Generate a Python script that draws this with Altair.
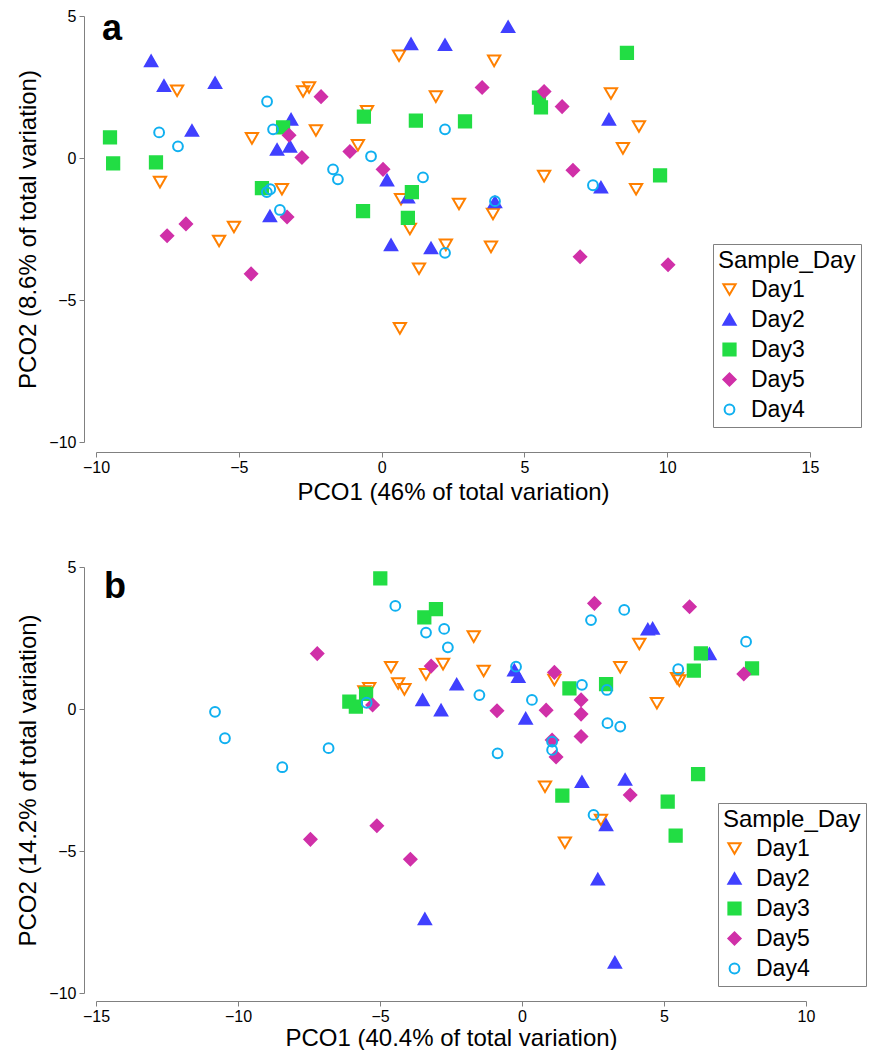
import altair as alt
import pandas as pd

days = ["Day1", "Day2", "Day3", "Day5", "Day4"]
CIRCLE = "M0.8,0A0.8,0.8,0,1,1,-0.8,0A0.8,0.8,0,1,1,0.8,0Z"
shapes = ["triangle-down", "triangle-up", "square", "diamond", CIRCLE]
strokes = ["#ff8000", "#4040ff", "#22dd44", "#d030a8", "#10b0f0"]
fills = ["transparent", "#4040ff", "#22dd44", "#d030a8", "transparent"]

# ---------- panel a ----------
a_day1_x = [-7.16, -7.76, -5.69, -5.17, -4.54, -2.75, -2.54, -2.30, -3.49, -0.83, -0.51, 0.61, 3.94, 1.90,
            0.68, 0.99, 2.71, 3.90, 2.25, 3.83, 1.31, 0.64, 5.69, 8.03, 9.01, 8.45, 8.91]
a_day1_y = [2.37, -0.85, -2.92, -2.43, 0.69, 2.34, 2.48, 0.97, -1.10, 0.45, 1.64, 3.60, 3.42, 2.16,
            -1.45, -2.50, -1.62, -1.97, -3.06, -3.13, -3.90, -6.00, -0.64, 2.27, 1.11, 0.34, -1.10]
a_day2_x = [-8.07, -7.62, -5.83, -6.64, -3.17, -3.66, -3.21, -3.91, 1.03, 2.22, 4.43, 0.19, 0.92, 3.97,
            0.33, 1.73, 7.96, 7.68]
a_day2_y = [3.42, 2.55, 2.65, 0.97, 1.36, 0.30, 0.41, -2.04, 4.02, 3.99, 4.62, -0.78, -1.38, -1.55,
            -3.06, -3.17, 1.36, -1.03]
a_day3_x = [-9.51, -9.40, -7.90, -3.45, -4.19, -0.62, 1.20, 2.92, 5.51, 5.58, 1.06, -0.65, 0.92, 8.59, 9.75]
a_day3_y = [0.73, -0.19, -0.15, 1.08, -1.06, 1.46, 1.32, 1.29, 2.13, 1.78, -1.20, -1.87, -2.11, 3.70, -0.61]
a_day5_x = [-7.51, -6.85, -4.57, -3.31, -2.12, -3.24, -2.79, -1.11, 0.05, 3.52, 5.69, 6.32, 6.70, 6.95, 10.03]
a_day5_y = [-2.74, -2.32, -4.08, -2.08, 2.16, 0.80, 0.02, 0.23, -0.40, 2.48, 2.34, 1.81, -0.43, -3.48, -3.76]
a_day4_x = [-4.01, -7.79, -7.13, -3.80, -1.70, -1.53, -4.02, -3.90, -3.56, 2.22, -0.37, 1.45, 3.97, 2.22, 7.40]
a_day4_y = [1.99, 0.90, 0.41, 1.01, -0.40, -0.75, -1.20, -1.10, -1.83, 1.01, 0.06, -0.68, -1.52, -3.34, -0.96]

# ---------- panel b ----------
b_day1_x = [-4.61, -5.38, -5.55, -4.36, -4.14, -1.70, -2.78, -3.38, -1.35, 1.14, 4.13, 3.46, 5.46, 5.54,
            4.75, 0.81, 2.78, 1.51]
b_day1_y = [1.47, 0.73, 0.61, 0.90, 0.69, 2.55, 1.58, 1.22, 1.34, 1.02, 2.29, 1.47, 1.08, 1.00,
            0.20, -2.74, -3.91, -4.71]
b_day2_x = [-3.50, -2.85, -2.30, -0.27, -0.13, 0.13, 4.43, 4.60, 6.60, 2.11, 3.63, 2.96, 2.67, -3.42, 3.27]
b_day2_y = [0.32, -0.04, 0.87, 1.37, 1.14, -0.33, 2.81, 2.84, 1.94, -2.56, -2.48, -4.08, -5.99, -7.39, -8.92]
b_day3_x = [-4.99, -6.08, -5.85, -5.49, -3.03, -3.44, 1.67, 2.96, 6.30, 6.05, 8.10, 1.42, 5.13, 5.41, 6.20]
b_day3_y = [4.60, 0.26, 0.08, 0.53, 3.52, 3.23, 0.73, 0.88, 1.96, 1.35, 1.43, -3.05, -3.26, -4.46, -2.29]
b_day5_x = [-7.21, -5.26, -3.20, 2.55, 1.14, -0.88, 0.85, 2.08, 2.08, 2.08, 1.06, 1.20, 5.90, 7.81,
            -7.45, -5.11, -3.93, 3.81]
b_day5_y = [1.95, 0.14, 1.51, 3.72, 1.29, -0.06, -0.04, 0.32, -0.18, -0.97, -1.09, -1.69, 3.60, 1.23,
            -4.59, -4.11, -5.29, -3.03]
b_day4_x = [-4.46, -10.81, -10.46, -5.47, -3.38, -2.74, -2.61, -1.50, -0.21, 0.35, 2.11, 2.43, 2.99, 3.01,
            3.46, 3.60, 7.89, 5.50, -8.44, -6.81, -0.86, 1.06, 1.06, 2.52]
b_day4_y = [3.63, -0.10, -1.03, 0.22, 2.69, 2.82, 2.17, 0.49, 1.49, 0.32, 0.85, 3.13, 0.67, -0.50,
            -0.62, 3.49, 2.37, 1.40, -2.05, -1.38, -1.56, -1.15, -1.44, -3.73]


def frame(groups):
    rows = []
    for day, xs, ys in groups:
        for x, y in zip(xs, ys):
            rows.append({"Sample_Day": day, "PCO1": x, "PCO2": y})
    return pd.DataFrame(rows)


df_a = frame([("Day1", a_day1_x, a_day1_y), ("Day2", a_day2_x, a_day2_y), ("Day3", a_day3_x, a_day3_y),
              ("Day5", a_day5_x, a_day5_y), ("Day4", a_day4_x, a_day4_y)])
df_b = frame([("Day1", b_day1_x, b_day1_y), ("Day2", b_day2_x, b_day2_y), ("Day3", b_day3_x, b_day3_y),
              ("Day5", b_day5_x, b_day5_y), ("Day4", b_day4_x, b_day4_y)])

TICK_FONT = "Liberation Sans Narrow, Arial Narrow, Liberation Sans"
FONT = "Liberation Sans, Arial"


def panel(df, letter, xdom, xticks, ydom, yticks, xtitle, ytitle, w, h, lx, ly, letter_x, letter_y,
          xoff, title_pad):
    legend = alt.Legend(
        orient="none", legendX=lx, legendY=ly, title="Sample_Day",
        titleFontSize=24, titleFont=FONT, titleFontWeight="normal", titleColor="black",
        labelFontSize=23, labelFont=FONT, labelColor="black",
        strokeColor="#808080", fillColor="white", padding=5,
        symbolSize=150, symbolStrokeWidth=2, rowPadding=6, titlePadding=5, labelOffset=10,
    )
    xaxis = alt.Axis(values=xticks, grid=False, offset=xoff, domainColor="#808080", tickColor="#808080",
                     tickSize=5, labelFont=TICK_FONT, labelFontSize=16, labelColor="black",
                     labelFlush=False, labelOverlap=False,
                     title=xtitle, titleFont=FONT, titleFontSize=24, titleFontWeight="normal",
                     titleColor="black", titlePadding=title_pad, labelPadding=2)
    yaxis = alt.Axis(values=yticks, grid=False, offset=12, domainColor="#808080", tickColor="#808080",
                     tickSize=5, labelFont=TICK_FONT, labelFontSize=16, labelColor="black",
                     labelFlush=False, labelOverlap=False,
                     title=ytitle, titleFont=FONT, titleFontSize=24, titleFontWeight="normal",
                     titleColor="black", titlePadding=8, labelPadding=3)
    pts = alt.Chart(df).mark_point(size=150, strokeWidth=2, opacity=1).encode(
        x=alt.X("PCO1:Q", scale=alt.Scale(domain=xdom, nice=False, zero=False, padding=0), axis=xaxis),
        y=alt.Y("PCO2:Q", scale=alt.Scale(domain=ydom, nice=False, zero=False, padding=0), axis=yaxis),
        shape=alt.Shape("Sample_Day:N", scale=alt.Scale(domain=days, range=shapes), legend=legend),
        stroke=alt.Stroke("Sample_Day:N", scale=alt.Scale(domain=days, range=strokes), legend=legend),
        fill=alt.Fill("Sample_Day:N", scale=alt.Scale(domain=days, range=fills), legend=legend),
    )
    lab = alt.Chart(pd.DataFrame({"t": [letter]})).mark_text(
        font=FONT, fontSize=36, fontWeight="bold", align="left", baseline="alphabetic", color="black"
    ).encode(text="t:N", x=alt.value(letter_x), y=alt.value(letter_y))
    return alt.layer(pts, lab).properties(width=w, height=h)


pa = panel(df_a, "a", [-10, 15], [-10, -5, 0, 5, 10, 15], [-10, 5], [-10, -5, 0, 5],
           "PCO1 (46% of total variation)", "PCO2 (8.6% of total variation)",
           714, 426, 617, 228, 6, 24, 10, 5)
pb = panel(df_b, "b", [-15, 10], [-15, -10, -5, 0, 5, 10], [-10, 5], [-10, -5, 0, 5],
           "PCO1 (40.4% of total variation)", "PCO2 (14.2% of total variation)",
           710, 426, 622, 236, 8, 31, 8, 2)

chart = alt.vconcat(pa, pb, spacing=55).properties(
    padding={"top": 0, "left": 8, "right": 0, "bottom": 0}
).configure_view(stroke=None).resolve_scale(shape="independent", stroke="independent", fill="independent", x="independent", y="independent")

chart.save("out.html", embed_options={"renderer": "svg", "actions": False})
